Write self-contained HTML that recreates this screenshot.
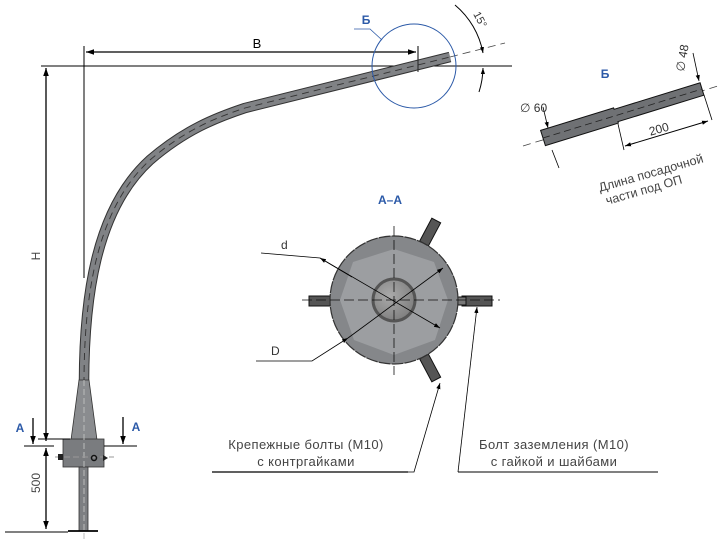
<!DOCTYPE html>
<html><head><meta charset="utf-8"><style>
body{margin:0;background:#fff}
svg{display:block}
text{font-family:"Liberation Sans","DejaVu Sans",sans-serif}
</style></head><body>
<svg width="723" height="543" viewBox="0 0 723 543" xmlns="http://www.w3.org/2000/svg">
<defs>
<marker id="ar" viewBox="0 0 10 10" refX="10" refY="5" markerWidth="8" markerHeight="8" orient="auto-start-reverse" markerUnits="userSpaceOnUse"><path d="M0,1.5 L10,5 L0,8.5 Z" fill="#000"/></marker>
<marker id="ars" viewBox="0 0 10 10" refX="10" refY="5" markerWidth="6" markerHeight="6" orient="auto-start-reverse" markerUnits="userSpaceOnUse"><path d="M0,1.5 L10,5 L0,8.5 Z" fill="#000"/></marker>
<radialGradient id="g1" cx="0.4" cy="0.4" r="0.7"><stop offset="0" stop-color="#aaa"/><stop offset="1" stop-color="#7a7a7a"/></radialGradient>
</defs>
<line x1="41" y1="66" x2="512" y2="66" stroke="#000" stroke-width="1"/>
<line x1="84" y1="46" x2="84" y2="278" stroke="#000" stroke-width="1"/>
<line x1="418" y1="46" x2="418" y2="68" stroke="#000" stroke-width="1"/>
<line x1="86" y1="52" x2="416" y2="52" stroke="#000" stroke-width="1.3" marker-start="url(#ar)" marker-end="url(#ar)"/>
<text x="257" y="48" font-size="13" text-anchor="middle">B</text>
<line x1="46" y1="68" x2="46" y2="441" stroke="#000" stroke-width="1.3" marker-start="url(#ar)" marker-end="url(#ar)"/>
<text transform="translate(40,256) rotate(-90)" font-size="12" text-anchor="middle" fill="#444">H</text>
<path d="M84 384 C84 300,95 210,150 160 C185 130,215 118,245 108 L450 57" fill="none" stroke="#333" stroke-width="10.5"/>
<path d="M84 384 C84 300,95 210,150 160 C185 130,215 118,245 108 L450 57" fill="none" stroke="#808285" stroke-width="8.5"/>
<path d="M84 384 C84 300,95 210,150 160 C185 130,215 118,245 108 L450 57" fill="none" stroke="#333" stroke-width="0.9" stroke-dasharray="7,5"/>
<line x1="450" y1="57" x2="505" y2="43" stroke="#444" stroke-width="0.8" stroke-dasharray="8,5"/>
<line x1="418" y1="60" x2="418" y2="72" stroke="#222" stroke-width="1"/>
<polygon points="79,380 89,380 97,440 71,440" fill="#8a8c8f" stroke="#333" stroke-width="0.8"/>
<rect x="63" y="439" width="41" height="28" fill="#7a7c7f" stroke="#333" stroke-width="0.8"/>
<rect x="79" y="467" width="9" height="64" fill="#7d7f82" stroke="#333" stroke-width="0.8"/>
<line x1="84" y1="380" x2="84" y2="540" stroke="#bbb" stroke-width="1" stroke-dasharray="6,3"/>
<line x1="55" y1="457" x2="114" y2="457" stroke="#999" stroke-width="1" stroke-dasharray="6,3"/>
<rect x="58" y="454" width="5" height="6" fill="#222"/>
<circle cx="94" cy="458" r="2.5" fill="none" stroke="#111" stroke-width="1.5"/>
<path d="M103 455 L108 458 L103 461Z" fill="#222"/>
<line x1="68" y1="531" x2="98" y2="531" stroke="#000" stroke-width="1.8"/>
<line x1="5" y1="532" x2="68" y2="532" stroke="#000" stroke-width="1"/>
<line x1="24" y1="446" x2="54" y2="446" stroke="#000" stroke-width="1"/>
<line x1="104" y1="446" x2="137" y2="446" stroke="#000" stroke-width="1"/>
<line x1="38" y1="439" x2="70" y2="439" stroke="#000" stroke-width="1"/>
<line x1="33" y1="418" x2="33" y2="444" stroke="#000" stroke-width="1.3" marker-end="url(#ar)"/>
<line x1="123" y1="417" x2="123" y2="444" stroke="#000" stroke-width="1.3" marker-end="url(#ar)"/>
<text x="20" y="432" font-size="12" font-weight="bold" fill="#2c5aa8" text-anchor="middle">A</text>
<text x="136" y="431" font-size="12" font-weight="bold" fill="#2c5aa8" text-anchor="middle">A</text>
<line x1="46" y1="448" x2="46" y2="529" stroke="#000" stroke-width="1.3" marker-start="url(#ar)" marker-end="url(#ar)"/>
<text transform="translate(40,483) rotate(-90)" font-size="12" text-anchor="middle" fill="#444">500</text>
<circle cx="414" cy="66" r="42" fill="none" stroke="#2c5aa8" stroke-width="1"/>
<polyline points="354,29 370,29 382,40" fill="none" stroke="#2c5aa8" stroke-width="0.8"/>
<text x="366" y="24" font-size="12" font-weight="bold" fill="#2c5aa8" text-anchor="middle">Б</text>
<path d="M455 5 A82 82 0 0 1 483 53" fill="none" stroke="#000" stroke-width="1" marker-end="url(#ars)"/>
<path d="M479 92 A82 82 0 0 0 483 68" fill="none" stroke="#000" stroke-width="1" marker-end="url(#ars)"/>
<text transform="translate(473,14) rotate(62)" font-size="11" fill="#333">15°</text>
<text x="605" y="78" font-size="12" font-weight="bold" fill="#2c5aa8" text-anchor="middle">Б</text>
<line x1="523" y1="146" x2="718" y2="86" stroke="#444" stroke-width="0.8" stroke-dasharray="8,5"/>
<polygon points="540.6,130.4 613.6,107.9 614.1,109.3 700.1,82.8 703.9,95.2 617.9,121.7 618.4,123.1 545.4,145.6" fill="#6f7174" stroke="#111" stroke-width="1"/>
<line x1="543" y1="138" x2="702" y2="89" stroke="#222" stroke-width="0.8" stroke-dasharray="7,4"/>
<line x1="543" y1="107" x2="548" y2="128" stroke="#000" stroke-width="0.8" marker-end="url(#ars)"/>
<line x1="559" y1="168" x2="552" y2="150" stroke="#000" stroke-width="0.8"/>
<line x1="693" y1="53" x2="699" y2="81" stroke="#000" stroke-width="0.8" marker-end="url(#ars)"/>
<line x1="704" y1="95" x2="712" y2="120" stroke="#000" stroke-width="0.8"/>
<line x1="618" y1="124" x2="624" y2="150" stroke="#000" stroke-width="0.8"/>
<line x1="625" y1="146" x2="708" y2="121" stroke="#000" stroke-width="1" marker-start="url(#ars)" marker-end="url(#ars)"/>
<text x="520" y="112" font-size="12" fill="#333">∅ 60</text>
<text transform="translate(684,72) rotate(-80)" font-size="12" fill="#333">∅ 48</text>
<text transform="translate(660,133) rotate(-16)" font-size="12" fill="#333" text-anchor="middle">200</text>
<text transform="translate(652,177) rotate(-16)" font-size="12.5" fill="#444" text-anchor="middle">Длина посадочной</text>
<text transform="translate(645,194) rotate(-16)" font-size="12.5" fill="#444" text-anchor="middle">части под ОП</text>
<text x="390" y="204" font-size="12" font-weight="bold" fill="#2c5aa8" text-anchor="middle">A–A</text>
<g stroke="#111" stroke-width="1">
<rect x="309" y="296" width="26" height="10" fill="#555"/>
<rect x="330" y="297" width="8" height="8" fill="#777"/>
<rect x="462" y="296" width="30" height="10" fill="#555"/>
<rect x="458" y="297" width="8" height="8" fill="#777"/>
<g transform="translate(394,300) rotate(-62)"><rect x="60" y="-5" width="30" height="10" fill="#555"/><rect x="56" y="-4" width="8" height="8" fill="#777"/></g>
<g transform="translate(394,300) rotate(62)"><rect x="60" y="-5" width="30" height="10" fill="#555"/><rect x="56" y="-4" width="8" height="8" fill="#777"/></g>
</g>
<circle cx="394" cy="300" r="64" fill="#85878a" stroke="#333" stroke-width="1.2" stroke-dasharray="12,1"/>
<polygon points="394,249 434,262 448,300 435,340 394,355 354,340 340,300 353,262" fill="#9c9ea1"/>
<circle cx="394" cy="300" r="21" fill="url(#g1)" stroke="#555" stroke-width="3"/>
<line x1="302" y1="300" x2="500" y2="300" stroke="#111" stroke-width="0.8" stroke-dasharray="10,4"/>
<line x1="394" y1="226" x2="394" y2="375" stroke="#111" stroke-width="0.8" stroke-dasharray="10,4"/>
<polyline points="261,253 320,258 440,328" fill="none" stroke="#000" stroke-width="0.8" marker-end="url(#ars)"/>
<line x1="320" y1="258" x2="352" y2="277" stroke="#000" stroke-width="0.8" marker-start="url(#ars)"/>
<polyline points="256,361 312,361 348,338" fill="none" stroke="#000" stroke-width="0.8" marker-end="url(#ars)"/>
<line x1="348" y1="338" x2="443" y2="268" stroke="#000" stroke-width="0.8" marker-end="url(#ars)"/>
<text x="281" y="249" font-size="12" fill="#333">d</text>
<text x="271" y="355" font-size="12" fill="#333">D</text>
<polyline points="212,472 414,472 440,383" fill="none" stroke="#000" stroke-width="0.8" marker-end="url(#ars)"/>
<polyline points="458,472 658,472" fill="none" stroke="#000" stroke-width="1"/>
<line x1="458" y1="472" x2="477" y2="307" stroke="#000" stroke-width="0.8" marker-end="url(#ars)"/>
<line x1="212" y1="472" x2="408" y2="472" stroke="#000" stroke-width="1.2"/>
<text x="306" y="449" font-size="13" letter-spacing="0.4" fill="#444" text-anchor="middle">Крепежные болты (М10)</text>
<text x="306" y="466" font-size="13" letter-spacing="0.4" fill="#444" text-anchor="middle">с контргайками</text>
<text x="554" y="449" font-size="13" letter-spacing="0.4" fill="#444" text-anchor="middle">Болт заземления (М10)</text>
<text x="554" y="466" font-size="13" letter-spacing="0.4" fill="#444" text-anchor="middle">с гайкой и шайбами</text>
</svg>
</body></html>
